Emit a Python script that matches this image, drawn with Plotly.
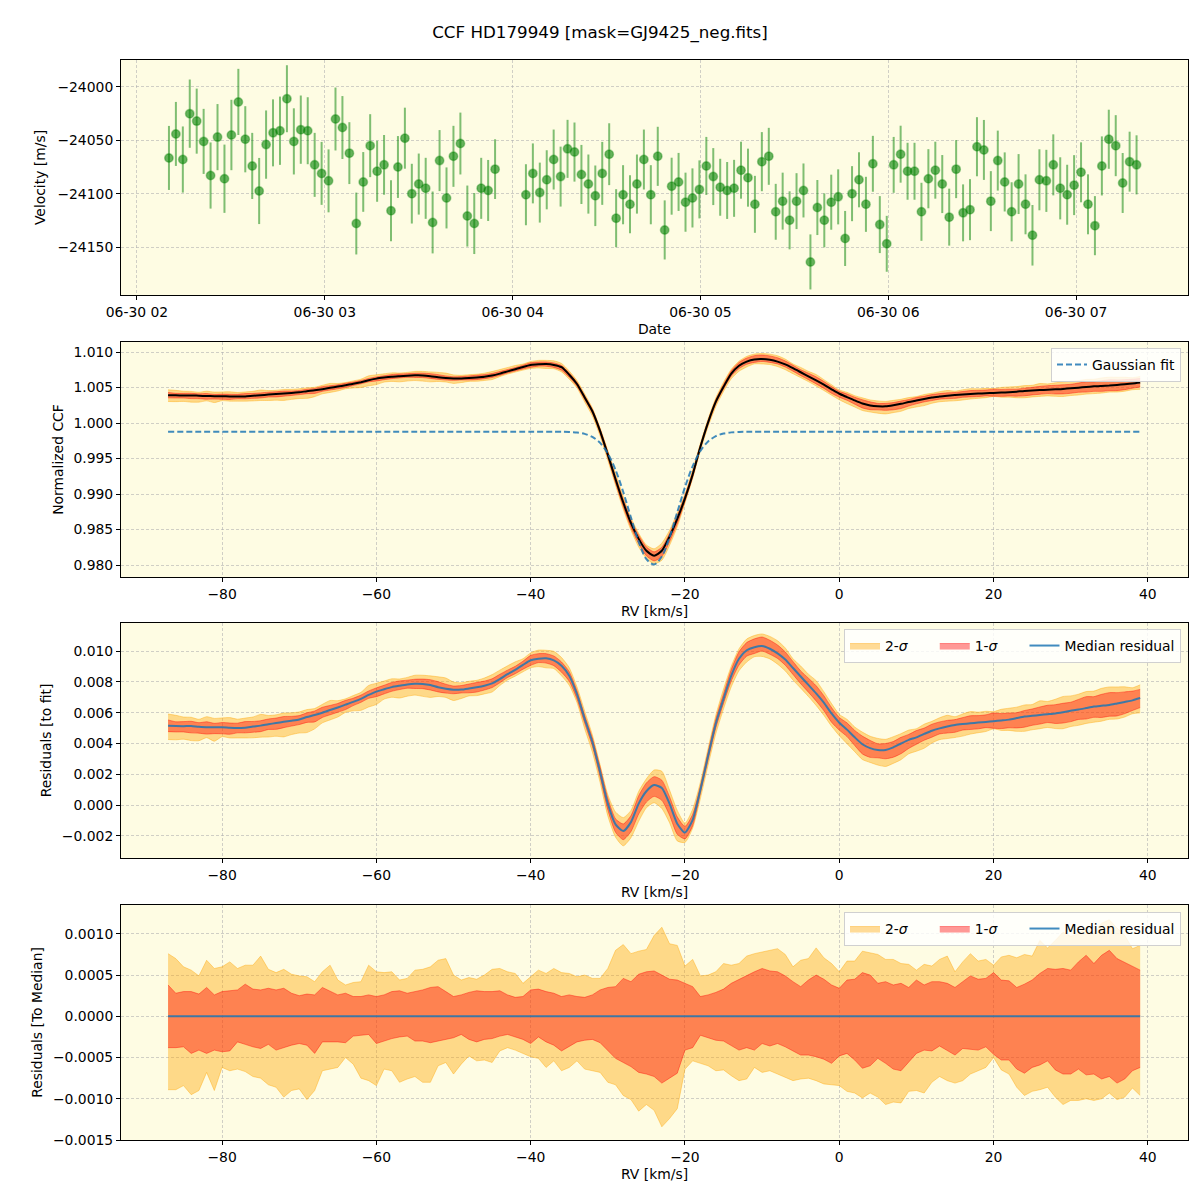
import plotly.graph_objects as go

# ---------------- Panel 1: RV time series ----------------
obs_time = [
    "2019-06-30 02:10:13", "2019-06-30 02:12:26", "2019-06-30 02:14:39", "2019-06-30 02:16:52",
    "2019-06-30 02:19:05", "2019-06-30 02:21:18", "2019-06-30 02:23:31", "2019-06-30 02:25:44",
    "2019-06-30 02:27:57", "2019-06-30 02:30:10", "2019-06-30 02:32:23", "2019-06-30 02:34:36",
    "2019-06-30 02:36:49", "2019-06-30 02:39:02", "2019-06-30 02:41:15", "2019-06-30 02:43:28",
    "2019-06-30 02:45:41", "2019-06-30 02:47:54", "2019-06-30 02:50:07", "2019-06-30 02:52:20",
    "2019-06-30 02:54:33", "2019-06-30 02:56:46", "2019-06-30 02:58:59", "2019-06-30 03:01:12",
    "2019-06-30 03:03:25", "2019-06-30 03:05:38", "2019-06-30 03:07:51", "2019-06-30 03:10:04",
    "2019-06-30 03:12:17", "2019-06-30 03:14:30", "2019-06-30 03:16:43", "2019-06-30 03:18:56",
    "2019-06-30 03:21:09", "2019-06-30 03:23:22", "2019-06-30 03:25:35", "2019-06-30 03:27:48",
    "2019-06-30 03:30:01", "2019-06-30 03:32:14", "2019-06-30 03:34:27", "2019-06-30 03:36:40",
    "2019-06-30 03:38:53", "2019-06-30 03:41:06", "2019-06-30 03:43:19", "2019-06-30 03:45:32",
    "2019-06-30 03:47:45", "2019-06-30 03:49:58", "2019-06-30 03:52:11", "2019-06-30 03:54:24",
    "2019-06-30 04:04:15", "2019-06-30 04:06:28", "2019-06-30 04:08:41", "2019-06-30 04:10:54",
    "2019-06-30 04:13:07", "2019-06-30 04:15:20", "2019-06-30 04:17:33", "2019-06-30 04:19:46",
    "2019-06-30 04:21:59", "2019-06-30 04:24:12", "2019-06-30 04:26:25", "2019-06-30 04:28:38",
    "2019-06-30 04:30:51", "2019-06-30 04:33:04", "2019-06-30 04:35:17", "2019-06-30 04:37:30",
    "2019-06-30 04:39:43", "2019-06-30 04:41:56", "2019-06-30 04:44:09", "2019-06-30 04:46:22",
    "2019-06-30 04:48:35", "2019-06-30 04:50:48", "2019-06-30 04:53:01", "2019-06-30 04:55:14",
    "2019-06-30 04:57:27", "2019-06-30 04:59:40", "2019-06-30 05:01:53", "2019-06-30 05:04:06",
    "2019-06-30 05:06:19", "2019-06-30 05:08:32", "2019-06-30 05:10:45", "2019-06-30 05:12:58",
    "2019-06-30 05:15:11", "2019-06-30 05:17:24", "2019-06-30 05:19:37", "2019-06-30 05:21:50",
    "2019-06-30 05:24:03", "2019-06-30 05:26:16", "2019-06-30 05:28:29", "2019-06-30 05:30:42",
    "2019-06-30 05:32:55", "2019-06-30 05:35:08", "2019-06-30 05:37:21", "2019-06-30 05:39:34",
    "2019-06-30 05:41:47", "2019-06-30 05:44:00", "2019-06-30 05:46:13", "2019-06-30 05:48:26",
    "2019-06-30 05:50:39", "2019-06-30 05:52:52", "2019-06-30 05:55:05", "2019-06-30 05:57:18",
    "2019-06-30 05:59:31", "2019-06-30 06:01:44", "2019-06-30 06:03:57", "2019-06-30 06:06:10",
    "2019-06-30 06:08:23", "2019-06-30 06:10:36", "2019-06-30 06:12:49", "2019-06-30 06:15:02",
    "2019-06-30 06:17:15", "2019-06-30 06:19:28", "2019-06-30 06:21:41", "2019-06-30 06:23:54",
    "2019-06-30 06:26:07", "2019-06-30 06:28:20", "2019-06-30 06:30:33", "2019-06-30 06:32:46",
    "2019-06-30 06:34:59", "2019-06-30 06:37:12", "2019-06-30 06:39:25", "2019-06-30 06:41:38",
    "2019-06-30 06:43:51", "2019-06-30 06:46:04", "2019-06-30 06:48:17", "2019-06-30 06:50:30",
    "2019-06-30 06:52:43", "2019-06-30 06:54:56", "2019-06-30 06:57:09", "2019-06-30 06:59:22",
    "2019-06-30 07:01:35", "2019-06-30 07:03:48", "2019-06-30 07:06:01", "2019-06-30 07:08:14",
    "2019-06-30 07:10:27", "2019-06-30 07:12:40", "2019-06-30 07:14:53", "2019-06-30 07:17:06",
    "2019-06-30 07:19:19",
]

velocity = [
    -24066.5, -24044, -24068, -24025, -24032, -24051, -24083, -24047, -24086, -24045,
    -24014, -24049, -24074, -24097.5, -24054, -24043, -24041, -24011, -24051, -24040,
    -24041, -24073, -24081, -24088, -24030, -24038, -24062, -24128, -24089, -24055,
    -24079, -24073, -24116, -24075, -24048, -24100, -24091, -24095, -24127, -24069,
    -24104, -24065, -24053, -24121, -24128, -24095, -24097, -24077,
    -24101, -24081, -24099, -24087, -24068, -24084, -24058, -24061, -24082, -24091,
    -24102, -24081, -24063, -24123, -24101, -24110, -24091, -24068, -24101, -24065,
    -24134, -24093, -24089, -24108, -24104, -24096, -24074, -24084, -24094, -24097,
    -24095, -24078, -24085, -24110, -24070, -24065, -24117, -24107, -24125, -24107,
    -24097, -24164, -24113, -24125, -24108, -24103, -24142, -24100, -24087, -24110,
    -24072, -24129, -24147, -24073,
    -24063, -24079, -24079, -24117, -24086, -24078, -24091, -24122, -24077, -24118,
    -24115, -24056, -24059, -24107, -24069, -24089, -24117, -24091, -24110, -24139,
    -24087, -24088, -24073, -24095, -24101, -24092, -24080, -24110, -24130, -24074,
    -24049, -24055, -24090, -24070, -24073,
]

velocity_err = [
    30.0, 30.0, 31.0, 32.0, 30.5, 30.5, 31.0, 31.0, 32.0, 33.0,
    31.0, 31.0, 31.0, 31.0, 32.0, 31.4, 32.0, 31.4, 31.0, 32.0,
    31.4, 30.0, 29.5, 29.5, 29.5, 29.5, 29.0, 29.0, 28.0, 29.5,
    28.6, 28.0, 28.6, 29.0, 28.6, 28.0, 28.6, 28.6, 29.0, 28.6,
    28.6, 28.6, 29.0, 28.6, 28.6, 28.6, 28.6, 28.0,
    28.6, 28.1, 28.1, 27.7, 28.1, 28.1, 27.2, 27.7, 27.7, 27.7,
    28.4, 29.5, 29.0, 27.2, 27.7, 27.2, 27.7, 28.1, 27.7, 27.7,
    27.7, 26.7, 27.2, 27.7, 27.7, 27.2, 27.2, 26.7, 26.7, 26.7,
    26.7, 26.7, 27.2, 26.7, 27.7, 26.7, 26.2, 26.7, 27.2, 26.2,
    25.3, 25.8, 25.8, 25.3, 25.8, 25.8, 25.8, 25.8, 25.8, 25.8,
    26.2, 26.7, 26.2, 26.2,
    26.7, 26.7, 26.7, 27.2, 27.7, 26.7, 27.2, 26.7, 27.2, 26.7,
    28.6, 27.7, 28.1, 28.1, 28.1, 27.7, 27.7, 28.1, 28.1, 28.4,
    28.6, 29.1, 28.6, 29.1, 28.1, 28.1, 28.1, 28.1, 27.7, 27.7,
    27.7, 28.6, 28.1, 28.1, 27.7,
]

# ---------------- CCF panels (RV grid, km/s) ----------------
rv = list(range(-87, 40))

ccf_median = [
    1.00392, 1.00390, 1.00388, 1.00389, 1.00384, 1.00380, 1.00378, 1.00377, 1.00374, 1.00372,
    1.00375, 1.00384, 1.00392, 1.00400, 1.00408, 1.00416, 1.00423, 1.00433, 1.00448, 1.00461,
    1.00477, 1.00495, 1.00513, 1.00532, 1.00552, 1.00575, 1.00602, 1.00625, 1.00640, 1.00652,
    1.00660, 1.00667, 1.00671, 1.00670, 1.00660, 1.00645, 1.00633, 1.00627, 1.00628, 1.00634,
    1.00642, 1.00652, 1.00668, 1.00695, 1.00727, 1.00758, 1.00790, 1.00817, 1.00826, 1.00830,
    1.00818,
    1.00786, 1.00680, 1.00550, 1.00360, 1.00165, 0.99885, 0.99555, 0.99208, 0.98880, 0.98590,
    0.98368, 0.98200, 0.98130, 0.98200, 0.98400, 0.98650, 0.98938, 0.99275, 0.99665, 1.00010,
    1.00300, 1.00510, 1.00695, 1.00807, 1.00865,
    1.00895, 1.00900, 1.00890, 1.00865, 1.00825, 1.00772, 1.00715, 1.00658, 1.00600, 1.00540,
    1.00475,
    1.00412, 1.00365, 1.00318, 1.00275, 1.00248, 1.00236, 1.00235, 1.00250, 1.00270, 1.00295,
    1.00316, 1.00338, 1.00358, 1.00372, 1.00385, 1.00394, 1.00402, 1.00408, 1.00414, 1.00419,
    1.00424, 1.00429, 1.00434, 1.00442, 1.00452, 1.00458, 1.00464, 1.00468, 1.00474, 1.00480,
    1.00489, 1.00497, 1.00507, 1.00516, 1.00522, 1.00528, 1.00537, 1.00546, 1.00556, 1.00570,
]

fit_rv = [-87, -40, -37, -36, -35, -34, -33, -32, -31, -30, -29, -28, -27, -26, -25, -24,
          -23, -22, -21, -20, -19, -18, -17, -16, -15, -14, -13, -12, -10, 39]
gauss_fit = [0.99877, 0.99877, 0.99877, 0.99876, 0.99873, 0.99866, 0.99847, 0.99804, 0.99720,
             0.99571, 0.99340, 0.99029, 0.98668, 0.98326, 0.98082, 0.98006, 0.98119, 0.98389,
             0.98742, 0.99096, 0.99393, 0.99607, 0.99741, 0.99815, 0.99852, 0.99868, 0.99874,
             0.99876, 0.99877, 0.99877]

res_median = [
    0.00515, 0.00513, 0.00512, 0.00514, 0.00508, 0.00506, 0.00505, 0.00506, 0.00502, 0.00500,
    0.00503, 0.00510, 0.00516, 0.00525, 0.00533, 0.00541, 0.00548, 0.00556, 0.00572, 0.00585,
    0.00600, 0.00617, 0.00634, 0.00652, 0.00670, 0.00690, 0.00715, 0.00737, 0.00752, 0.00766,
    0.00775, 0.00783, 0.00787, 0.00786, 0.00779, 0.00765, 0.00755, 0.00749, 0.00750, 0.00757,
    0.00765, 0.00775, 0.00790, 0.00818, 0.00850, 0.00878, 0.00910, 0.00940, 0.00950, 0.00953,
    0.00940,
    0.00905, 0.00840, 0.00720, 0.00560, 0.00410, 0.00215, 0.00010, -0.00125, -0.00168, -0.00110,
    0.00010, 0.00090, 0.00130, 0.00112, 0.00010, -0.00120, -0.00178, -0.00095, 0.00100, 0.00320,
    0.00530, 0.00690, 0.00840, 0.00950, 0.01005,
    0.01025, 0.01033, 0.01015, 0.00985, 0.00945, 0.00890, 0.00835, 0.00780, 0.00725, 0.00665,
    0.00595,
    0.00535, 0.00490, 0.00440, 0.00395, 0.00370, 0.00358, 0.00358, 0.00375, 0.00400, 0.00424,
    0.00440, 0.00462, 0.00483, 0.00498, 0.00510, 0.00520, 0.00526, 0.00531, 0.00536, 0.00540,
    0.00545, 0.00550, 0.00555, 0.00565, 0.00575, 0.00580, 0.00585, 0.00590, 0.00595, 0.00603,
    0.00612, 0.00620, 0.00630, 0.00640, 0.00645, 0.00650, 0.00660, 0.00670, 0.00680, 0.00695,
]

# spread of the CCFs around their median (bottom panel)
band_hi2 = [
    0.00076, 0.00070, 0.00060, 0.00056, 0.00049, 0.00068, 0.00058, 0.00060, 0.00066, 0.00058,
    0.00062, 0.00062, 0.00073, 0.00057, 0.00053, 0.00057, 0.00051, 0.00049, 0.00048, 0.00042,
    0.00054, 0.00062, 0.00044, 0.00038, 0.00041, 0.00042, 0.00062, 0.00054, 0.00053, 0.00054,
    0.00044, 0.00046, 0.00056, 0.00057, 0.00060, 0.00068, 0.00070, 0.00050, 0.00044, 0.00047,
    0.00045, 0.00050, 0.00057, 0.00058, 0.00054, 0.00052, 0.00040, 0.00048, 0.00056, 0.00052,
    0.00058, 0.00053, 0.00052, 0.00048, 0.00050, 0.00046, 0.00046, 0.00058, 0.00080, 0.00087,
    0.00076, 0.00079, 0.00081, 0.00098, 0.00108, 0.00088, 0.00086, 0.00061, 0.00069, 0.00049,
    0.00050, 0.00054, 0.00064, 0.00062, 0.00064, 0.00073, 0.00076, 0.00078, 0.00080, 0.00082,
    0.00075, 0.00060, 0.00068, 0.00070, 0.00083, 0.00071, 0.00064, 0.00054, 0.00067, 0.00067,
    0.00079, 0.00077, 0.00075, 0.00069, 0.00069, 0.00064, 0.00063, 0.00056, 0.00063, 0.00061,
    0.00069, 0.00073, 0.00054, 0.00066, 0.00076, 0.00067, 0.00069, 0.00062, 0.00072, 0.00074,
    0.00071, 0.00075, 0.00073, 0.00092, 0.00083, 0.00092, 0.00102, 0.00097, 0.00100, 0.00107,
    0.00100, 0.00113, 0.00117, 0.00107, 0.00098, 0.00082, 0.00086,
]
band_hi1 = [
    0.00038, 0.00028, 0.00030, 0.00030, 0.00027, 0.00035, 0.00026, 0.00030, 0.00031, 0.00032,
    0.00039, 0.00033, 0.00032, 0.00034, 0.00032, 0.00034, 0.00028, 0.00025, 0.00027, 0.00026,
    0.00035, 0.00030, 0.00026, 0.00028, 0.00024, 0.00024, 0.00026, 0.00024, 0.00026, 0.00030,
    0.00031, 0.00028, 0.00030, 0.00032, 0.00035, 0.00036, 0.00030, 0.00024, 0.00026, 0.00029,
    0.00031, 0.00030, 0.00030, 0.00031, 0.00026, 0.00023, 0.00024, 0.00032, 0.00033, 0.00030,
    0.00028, 0.00024, 0.00026, 0.00024, 0.00023, 0.00026, 0.00032, 0.00035, 0.00036, 0.00046,
    0.00042, 0.00051, 0.00054, 0.00055, 0.00050, 0.00045, 0.00044, 0.00040, 0.00036, 0.00024,
    0.00026, 0.00029, 0.00033, 0.00040, 0.00045, 0.00050, 0.00054, 0.00058, 0.00055, 0.00054,
    0.00049, 0.00042, 0.00036, 0.00044, 0.00050, 0.00045, 0.00038, 0.00034, 0.00044, 0.00045,
    0.00053, 0.00050, 0.00040, 0.00042, 0.00038, 0.00040, 0.00035, 0.00044, 0.00038, 0.00042,
    0.00042, 0.00040, 0.00035, 0.00042, 0.00049, 0.00045, 0.00046, 0.00053, 0.00044, 0.00043,
    0.00035, 0.00039, 0.00044, 0.00052, 0.00058, 0.00057, 0.00058, 0.00056, 0.00066, 0.00074,
    0.00064, 0.00074, 0.00080, 0.00070, 0.00065, 0.00060, 0.00056,
]
band_lo1 = [
    -0.00038, -0.00038, -0.00037, -0.00045, -0.00041, -0.00045, -0.00041, -0.00043, -0.00042, -0.00031,
    -0.00034, -0.00037, -0.00039, -0.00034, -0.00041, -0.00038, -0.00035, -0.00033, -0.00035, -0.00045,
    -0.00031, -0.00031, -0.00031, -0.00032, -0.00024, -0.00023, -0.00022, -0.00033, -0.00030, -0.00027,
    -0.00025, -0.00024, -0.00030, -0.00030, -0.00032, -0.00030, -0.00028, -0.00026, -0.00022, -0.00028,
    -0.00031, -0.00028, -0.00027, -0.00024, -0.00022, -0.00025, -0.00028, -0.00033, -0.00025, -0.00031,
    -0.00035, -0.00042, -0.00036, -0.00031, -0.00029, -0.00028, -0.00032, -0.00041, -0.00051, -0.00056,
    -0.00061, -0.00068, -0.00070, -0.00073, -0.00081, -0.00075, -0.00069, -0.00041, -0.00038, -0.00023,
    -0.00026, -0.00029, -0.00030, -0.00035, -0.00041, -0.00038, -0.00041, -0.00033, -0.00036, -0.00033,
    -0.00037, -0.00042, -0.00047, -0.00047, -0.00049, -0.00052, -0.00057, -0.00048, -0.00045, -0.00053,
    -0.00063, -0.00060, -0.00051, -0.00057, -0.00064, -0.00066, -0.00056, -0.00045, -0.00041, -0.00042,
    -0.00036, -0.00042, -0.00047, -0.00039, -0.00040, -0.00041, -0.00037, -0.00046, -0.00053, -0.00053,
    -0.00064, -0.00069, -0.00062, -0.00059, -0.00054, -0.00065, -0.00070, -0.00070, -0.00064, -0.00071,
    -0.00070, -0.00076, -0.00073, -0.00081, -0.00076, -0.00066, -0.00062,
]
band_lo2 = [
    -0.00089, -0.00089, -0.00084, -0.00095, -0.00090, -0.00068, -0.00090, -0.00062, -0.00066, -0.00064,
    -0.00067, -0.00073, -0.00075, -0.00083, -0.00086, -0.00098, -0.00090, -0.00088, -0.00101, -0.00090,
    -0.00066, -0.00064, -0.00062, -0.00050, -0.00058, -0.00075, -0.00078, -0.00084, -0.00064, -0.00066,
    -0.00080, -0.00076, -0.00073, -0.00080, -0.00080, -0.00060, -0.00056, -0.00070, -0.00058, -0.00048,
    -0.00054, -0.00053, -0.00056, -0.00042, -0.00038, -0.00041, -0.00045, -0.00049, -0.00051, -0.00062,
    -0.00054, -0.00066, -0.00062, -0.00054, -0.00064, -0.00066, -0.00068, -0.00080, -0.00083, -0.00096,
    -0.00101, -0.00115, -0.00107, -0.00114, -0.00134, -0.00124, -0.00112, -0.00064, -0.00054, -0.00057,
    -0.00060, -0.00066, -0.00065, -0.00072, -0.00078, -0.00076, -0.00062, -0.00068, -0.00066, -0.00070,
    -0.00074, -0.00078, -0.00076, -0.00075, -0.00078, -0.00082, -0.00083, -0.00084, -0.00091, -0.00093,
    -0.00099, -0.00093, -0.00098, -0.00107, -0.00104, -0.00105, -0.00091, -0.00090, -0.00093, -0.00080,
    -0.00073, -0.00078, -0.00081, -0.00078, -0.00070, -0.00066, -0.00062, -0.00050, -0.00065, -0.00070,
    -0.00086, -0.00096, -0.00091, -0.00089, -0.00086, -0.00098, -0.00107, -0.00102, -0.00102, -0.00100,
    -0.00102, -0.00100, -0.00093, -0.00101, -0.00098, -0.00087, -0.00096,
]
median_to_median = [0.0, 0.0]

# tick values / labels
vel_ticks = [-24150, -24100, -24050, -24000]
vel_ticktext = ["\u221224150", "\u221224100", "\u221224050", "\u221224000"]
rv_ticks = [-80, -60, -40, -20, 0, 20, 40]
rv_ticktext = ["\u221280", "\u221260", "\u221240", "\u221220", "0", "20", "40"]
ccf_ticks = [0.980, 0.985, 0.990, 0.995, 1.000, 1.005, 1.010]
res_ticks = [-0.002, 0.000, 0.002, 0.004, 0.006, 0.008, 0.010]
res_ticktext = ["\u22120.002", "0.000", "0.002", "0.004", "0.006", "0.008", "0.010"]
med_ticks = [-0.0015, -0.0010, -0.0005, 0.0, 0.0005, 0.0010]
med_ticktext = ["\u22120.0015", "\u22120.0010", "\u22120.0005", "0.0000", "0.0005", "0.0010"]

# ---------------- styling ----------------
FONT = "DejaVu Sans"
FS = 13.9
ORANGE = "rgba(255,165,0,0.4)"
RED = "rgba(255,0,0,0.4)"
BLUE = "rgba(31,119,180,0.85)"
GREEN_BAR = "rgba(0,128,0,0.5)"
PAD = "\u00a0" * 5  # column spacing in the horizontal legends

fig = go.Figure()

fig.add_trace(go.Scatter(
    x=obs_time, y=velocity, mode="markers", name="Good", legend="legend",
    xaxis="x", yaxis="y",
    error_y=dict(type="data", array=velocity_err, color=GREEN_BAR, thickness=2, width=0),
    marker=dict(color="rgba(0,128,0,0.6)", size=8.5,
                line=dict(color="rgba(0,128,0,0.35)", width=1.5)),
))


def add_bands(center, xa, ya, legend_name, show, shape):
    lo2 = [c + d for c, d in zip(center, band_lo2)]
    hi2 = [c + d for c, d in zip(center, band_hi2)]
    lo1 = [c + d for c, d in zip(center, band_lo1)]
    hi1 = [c + d for c, d in zip(center, band_hi1)]
    common = dict(x=rv, mode="lines", xaxis=xa, yaxis=ya, legend=legend_name)
    ls = dict(width=1, shape=shape)
    if shape == "spline":
        ls["smoothing"] = 0.6
    fig.add_trace(go.Scatter(y=lo2, line=dict(color=ORANGE, **ls),
                             showlegend=False, hoverinfo="skip", **common))
    fig.add_trace(go.Scatter(y=hi2, line=dict(color=ORANGE, **ls),
                             fill="tonexty", fillcolor=ORANGE, name="2-<i>\u03c3</i>" + PAD,
                             showlegend=show, **common))
    fig.add_trace(go.Scatter(y=lo1, line=dict(color=RED, **ls),
                             showlegend=False, hoverinfo="skip", **common))
    fig.add_trace(go.Scatter(y=hi1, line=dict(color=RED, **ls),
                             fill="tonexty", fillcolor=RED, name="1-<i>\u03c3</i>" + PAD,
                             showlegend=show, **common))


# Panel 2
add_bands(ccf_median, "x2", "y2", "legend2", False, "spline")
fig.add_trace(go.Scatter(x=rv, y=ccf_median, mode="lines", xaxis="x2", yaxis="y2",
                         line=dict(color="black", width=2, shape="spline", smoothing=0.6),
                         showlegend=False, legend="legend2", name="median CCF"))
fig.add_trace(go.Scatter(x=fit_rv, y=gauss_fit, mode="lines", xaxis="x2", yaxis="y2",
                         line=dict(color=BLUE, width=2, dash="6px,3px", shape="spline", smoothing=0.8),
                         name="Gaussian fit", legend="legend2"))

# Panel 3
add_bands(res_median, "x3", "y3", "legend3", True, "spline")
fig.add_trace(go.Scatter(x=rv, y=res_median, mode="lines", xaxis="x3", yaxis="y3",
                         line=dict(color=BLUE, width=2, shape="spline", smoothing=0.6),
                         name="Median residual", legend="legend3"))

# Panel 4
add_bands([0.0] * len(rv), "x4", "y4", "legend4", True, "linear")
fig.add_trace(go.Scatter(x=[rv[0], rv[-1]], y=median_to_median, mode="lines", xaxis="x4", yaxis="y4",
                         line=dict(color=BLUE, width=2),
                         name="Median residual", legend="legend4"))

# ---------------- layout ----------------
W = H = 1200.0
x_dom = [121 / W, 1188 / W]


def ydom(top, bottom):
    return [1 - bottom / H, 1 - top / H]


def axis(**kw):
    base = dict(showline=True, linecolor="black", linewidth=1, mirror=True,
                ticks="outside", ticklen=4, tickwidth=1, tickcolor="black",
                showgrid=True, gridcolor="rgba(176,176,176,0.6)", gridwidth=0.8,
                griddash="3px,2px", zeroline=False,
                tickfont=dict(family=FONT, size=FS, color="black"),
                title_font=dict(family=FONT, size=FS, color="black"),
                automargin=False)
    base.update(kw)
    return base


rv_range = [-93.1, 45.2]

layout = dict(
    width=1200, height=1200,
    margin=dict(l=0, r=0, t=0, b=0),
    paper_bgcolor="white", plot_bgcolor="#fefce3",
    font=dict(family=FONT, size=FS, color="black"),
    title=dict(text="CCF HD179949 [mask=GJ9425_neg.fits]", x=0.5, xanchor="center",
               yref="container", y=1 - 32 / H, yanchor="middle",
               font=dict(family=FONT, size=16.7, color="black")),
    xaxis=axis(domain=x_dom, anchor="y", type="date",
               range=["2019-06-30 01:54:54", "2019-06-30 07:35:45"],
               tick0="2019-06-30 02:00:00", dtick=3600000, tickformat="%m-%d %H",
               title=dict(text="Date", standoff=5)),
    yaxis=axis(domain=ydom(60, 295), anchor="x", range=[-24195, -23974.7],
               tickmode="array", tickvals=vel_ticks, ticktext=vel_ticktext,
               title=dict(text="Velocity [m/s]", standoff=8)),
    xaxis2=axis(domain=x_dom, anchor="y2", range=rv_range, tickmode="array",
                tickvals=rv_ticks, ticktext=rv_ticktext, layer="above traces",
                title=dict(text="RV [km/s]", standoff=5)),
    yaxis2=axis(domain=ydom(342, 577), anchor="x2", range=[0.97831, 1.01141],
                tickmode="array", tickvals=ccf_ticks, tickformat=".3f", layer="above traces",
                title=dict(text="Normalized CCF", standoff=6)),
    xaxis3=axis(domain=x_dom, anchor="y3", range=rv_range, tickmode="array",
                tickvals=rv_ticks, ticktext=rv_ticktext, layer="above traces",
                title=dict(text="RV [km/s]", standoff=5)),
    yaxis3=axis(domain=ydom(623, 858), anchor="x3", range=[-0.00343, 0.01182],
                tickmode="array", tickvals=res_ticks, ticktext=res_ticktext, layer="above traces",
                title=dict(text="Residuals [to fit]", standoff=6)),
    xaxis4=axis(domain=x_dom, anchor="y4", range=rv_range, tickmode="array",
                tickvals=rv_ticks, ticktext=rv_ticktext, layer="above traces",
                title=dict(text="RV [km/s]", standoff=5)),
    yaxis4=axis(domain=ydom(905, 1140), anchor="x4", range=[-0.0015, 0.00135],
                tickmode="array", tickvals=med_ticks, ticktext=med_ticktext, layer="above traces",
                title=dict(text="Residuals [To Median]", standoff=7)),
)

leg_common = dict(bgcolor="rgba(255,255,255,0.8)", bordercolor="#d0d0d0", borderwidth=1,
                  font=dict(family=FONT, size=FS, color="black"), xanchor="right", yanchor="top",
                  xref="paper", yref="paper", traceorder="normal")
layout["legend"] = dict(x=1181 / W, y=1 - 67 / H, **leg_common)
layout["legend2"] = dict(x=1181 / W, y=1 - 348 / H, **leg_common)
layout["legend3"] = dict(x=1181 / W, y=1 - 629 / H, orientation="h", itemwidth=30, **leg_common)
layout["legend4"] = dict(x=1181 / W, y=1 - 912 / H, orientation="h", itemwidth=30, **leg_common)

fig.update_layout(**layout)
fig.write_html("out.html", post_script="document.body.style.margin='0px';",
               config={"displayModeBar": False})
